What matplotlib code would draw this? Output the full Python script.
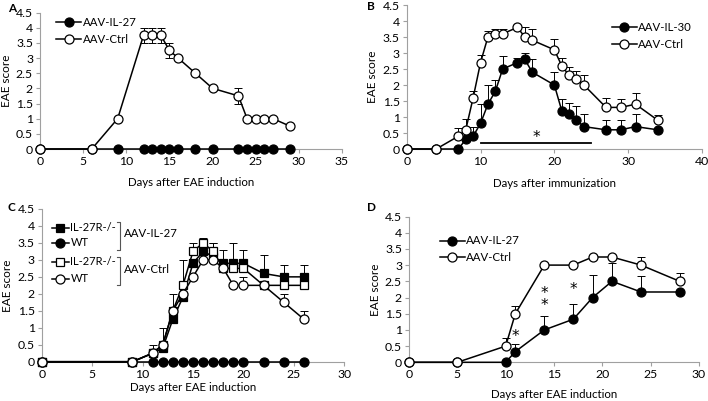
import numpy as np
import matplotlib
matplotlib.use("Agg")
import matplotlib.pyplot as plt

plt.rcParams['font.family'] = ['Lato', 'DejaVu Sans']
plt.rcParams['font.size'] = 8

# ---- panel A ----
a_ctrl_x = [0, 6, 9, 12, 13, 14, 15, 16, 18, 20, 23, 24, 25, 26, 27, 29]
a_ctrl_y = [0, 0, 1, 3.75, 3.75, 3.75, 3.25, 3, 2.5, 2, 1.75, 1, 1, 1, 1, 0.75]
a_ctrl_err = [0, 0, 0, 0.25, 0.25, 0.25, 0.25, 0, 0, 0, 0.25, 0, 0, 0, 0, 0]
a_il27_x = [0, 6, 9, 12, 13, 14, 15, 16, 18, 20, 23, 24, 25, 26, 27, 29]
a_il27_y = [0] * 16

# ---- panel B ----
b_ctrl_x = [0, 4, 7, 8, 9, 10, 11, 12, 13, 15, 16, 17, 20, 21, 22, 23, 24, 27, 29, 31, 34]
b_ctrl_y = [0, 0, 0.4, 0.6, 1.6, 2.7, 3.5, 3.6, 3.6, 3.8, 3.5, 3.4, 3.1, 2.6, 2.3, 2.2, 2.0, 1.3, 1.3, 1.4, 0.9]
b_ctrl_err = [0, 0, 0.25, 0.35, 0.2, 0.25, 0.2, 0.15, 0.15, 0.05, 0.3, 0.35, 0.35, 0.25, 0.25, 0.25, 0.3, 0.3, 0.25, 0.35, 0.15]
b_il30_x = [0, 4, 7, 8, 9, 10, 11, 12, 13, 15, 16, 17, 20, 21, 22, 23, 24, 27, 29, 31, 34]
b_il30_y = [0, 0, 0, 0.3, 0.4, 0.8, 1.4, 1.8, 2.5, 2.7, 2.8, 2.4, 2.0, 1.2, 1.1, 0.9, 0.7, 0.6, 0.6, 0.7, 0.6]
b_il30_err = [0, 0, 0, 0.2, 0.3, 0.6, 0.6, 0.35, 0.4, 0.15, 0.2, 0.4, 0.4, 0.35, 0.35, 0.45, 0.4, 0.3, 0.3, 0.4, 0]
b_sig_days = [10, 25]

# ---- panel C ----
c_x = [0, 9, 11, 12, 13, 14, 15, 16, 17, 18, 19, 20, 22, 24, 26]
c_ko_il27_y = [0, 0, 0.25, 0.4, 1.25, 1.9, 2.9, 3.25, 3.1, 2.9, 2.9, 2.9, 2.6, 2.5, 2.5]
c_ko_il27_err = [0, 0, 0, 0, 0, 0, 0, 0, 0.4, 0.4, 0.6, 0.4, 0.55, 0.35, 0.35]
c_wt_il27_y = [0] * 15
c_ko_ctrl_y = [0, 0, 0.25, 0.5, 1.5, 2.25, 3.25, 3.5, 3.25, 2.75, 2.75, 2.75, 2.25, 2.25, 2.25]
c_ko_ctrl_err = [0, 0, 0.25, 0.5, 0.5, 0.75, 0.25, 0.15, 0.25, 0, 0, 0, 0, 0, 0]
c_wt_ctrl_y = [0, 0, 0.25, 0.5, 1.5, 2.0, 2.5, 3.0, 3.0, 2.75, 2.25, 2.25, 2.25, 1.75, 1.25]
c_wt_ctrl_err = [0, 0, 0, 0, 0, 0, 0, 0, 0, 0, 0, 0.25, 0, 0.25, 0.25]

# ---- panel D ----
d_x = [0, 5, 10, 11, 14, 17, 19, 21, 24, 28]
d_il27_y = [0, 0, 0, 0.33, 1.0, 1.33, 2.0, 2.5, 2.17, 2.17]
d_il27_err = [0, 0, 0, 0.25, 0.42, 0.47, 0.7, 0.55, 0.5, 0]
d_ctrl_y = [0, 0, 0.5, 1.5, 3.0, 3.0, 3.25, 3.25, 3.0, 2.5]
d_ctrl_err = [0, 0, 0.25, 0.25, 0, 0, 0, 0, 0.25, 0.25]
d_stars = [(11, 0.8, '*'), (14, 1.95, '*\n*'), (17, 2.25, '*')]

W, H = 708, 401
fig = plt.figure(figsize=(W / 100, H / 100), dpi=100)
STAR = dict(family='DejaVu Sans', fontsize=11, ha='center', va='center', linespacing=0.75)


def px_axes(x0, x1, y0, y1):
    # pixel box: left, right, bottom (from top), top (from top)
    return fig.add_axes([x0 / W, 1 - y0 / H, (x1 - x0) / W, (y0 - y1) / H])


def style(ax, xmax, xstep):
    ax.set_xlim(0, xmax)
    ax.set_ylim(0, 4.5)
    ax.set_xticks(np.arange(0, xmax + 0.1, xstep))
    ax.set_yticks(np.arange(0, 4.51, 0.5))
    ax.set_yticklabels(['0', '0.5', '1', '1.5', '2', '2.5', '3', '3.5', '4', '4.5'])
    for s in ['top', 'right']:
        ax.spines[s].set_visible(False)
    for s in ['left', 'bottom']:
        ax.spines[s].set_color('#a0a0a0')
        ax.spines[s].set_linewidth(0.8)
    ax.tick_params(length=3, width=0.8, color='#a0a0a0', labelsize=8.8, pad=2)
    ax.set_ylabel('EAE score', fontsize=8.5, labelpad=3)


def series(ax, x, y, marker, filled, z):
    ln, = ax.plot(x, y, color='black', lw=1.1, marker=marker, ms=6.5 if marker == 'o' else 6,
                  mfc='black' if filled else 'white', mec='black', mew=0.9,
                  zorder=z, clip_on=False)
    return ln


def ebar(ax, x, y, err, both=False, z=2):
    e = np.array(err, dtype=float)
    lower = e if both else np.zeros_like(e)
    m = e > 0
    ax.errorbar(np.array(x)[m], np.array(y)[m], yerr=[lower[m], e[m]], fmt='none',
                ecolor='black', elinewidth=0.7, capsize=2.8, capthick=0.7, zorder=z, clip_on=False)


LEG = dict(frameon=False, handlelength=2.2, handletextpad=0.1, labelspacing=0.5, fontsize=8.2,
           loc='upper left')

# ---- A ----
axA = px_axes(40, 342, 149, 12.5)
style(axA, 35, 5)
ebar(axA, a_ctrl_x, a_ctrl_y, a_ctrl_err, both=True, z=4)
l1 = series(axA, a_il27_x, a_il27_y, 'o', True, 3)
l2 = series(axA, a_ctrl_x, a_ctrl_y, 'o', False, 5)
axA.legend([l1, l2], ['AAV-IL-27', 'AAV-Ctrl'], bbox_to_anchor=(0.02, 1.04), **LEG)
axA.set_xlabel('Days after EAE induction', fontsize=8.3, labelpad=7)
fig.text(8 / W, 1 - 8 / H, 'A', fontsize=8.5, fontweight='bold', va='center', ha='left')

# ---- B ----
axB = px_axes(406.7, 702, 149, 5)
style(axB, 40, 10)
ebar(axB, b_ctrl_x, b_ctrl_y, b_ctrl_err, z=2)
ebar(axB, b_il30_x, b_il30_y, b_il30_err, z=2)
l1 = series(axB, b_il30_x, b_il30_y, 'o', True, 3)
l2 = series(axB, b_ctrl_x, b_ctrl_y, 'o', False, 4)
axB.legend([l1, l2], ['AAV-IL-30', 'AAV-Ctrl'], bbox_to_anchor=(0.66, 0.95), **LEG)
axB.plot(b_sig_days, [0.18, 0.18], color='black', lw=1.3)
axB.text(np.mean(b_sig_days), 0.36, '*', **STAR)
axB.set_xlabel('Days after immunization', fontsize=8.3, labelpad=8)
fig.text(367 / W, 1 - 6 / H, 'B', fontsize=8.5, fontweight='bold', va='center', ha='left')

# ---- C ----
axC = px_axes(41.7, 344.3, 361.7, 209)
style(axC, 30, 5)
ebar(axC, c_x, c_ko_il27_y, c_ko_il27_err)
ebar(axC, c_x, c_ko_ctrl_y, c_ko_ctrl_err)
ebar(axC, c_x, c_wt_ctrl_y, c_wt_ctrl_err)
series(axC, c_x, c_ko_il27_y, 's', True, 3)
series(axC, c_x, c_wt_il27_y, 'o', True, 4)
series(axC, c_x, c_ko_ctrl_y, 's', False, 5)
series(axC, c_x, c_wt_ctrl_y, 'o', False, 6)
leg_y = [3.95, 3.5, 2.94, 2.44]
leg_lab = ['IL-27R-/-', 'WT', 'IL-27R-/-', 'WT']
leg_mk = [('s', True), ('o', True), ('s', False), ('o', False)]
for yy, lab, (mk, fl) in zip(leg_y, leg_lab, leg_mk):
    axC.plot([1.0, 2.75], [yy, yy], color='black', lw=1.1)
    axC.plot([1.85], [yy], marker=mk, ms=6.5 if mk == 'o' else 6, mfc='black' if fl else 'white',
             mec='black', mew=0.9, color='black')
    axC.text(2.85, yy, lab, va='center', ha='left', fontsize=8.0)
for (ytop, ybot, lab) in [(4.13, 3.3, 'AAV-IL-27'), (3.1, 2.26, 'AAV-Ctrl')]:
    axC.plot([7.5, 7.8, 7.8, 7.5], [ytop, ytop, ybot, ybot], color='#555555', lw=0.8)
    axC.text(8.15, (ytop + ybot) / 2 + 0.05, lab, va='center', ha='left', fontsize=8.2)
axC.set_xlabel('Days after EAE induction', fontsize=8.3, labelpad=2)
fig.text(8 / W, 1 - 207 / H, 'C', fontsize=8.5, fontweight='bold', va='center', ha='left')

# ---- D ----
axD = px_axes(409, 699, 362.3, 216.5)
style(axD, 30, 5)
ebar(axD, d_x, d_il27_y, d_il27_err)
ebar(axD, d_x, d_ctrl_y, d_ctrl_err)
l1 = series(axD, d_x, d_il27_y, 'o', True, 3)
l2 = series(axD, d_x, d_ctrl_y, 'o', False, 4)
axD.legend([l1, l2], ['AAV-IL-27', 'AAV-Ctrl'], bbox_to_anchor=(0.07, 0.94), **LEG)
for sx, sy, s in d_stars:
    axD.text(sx, sy, s, **STAR)
axD.set_xlabel('Days after EAE induction', fontsize=8.3, labelpad=6)
fig.text(367 / W, 1 - 207 / H, 'D', fontsize=8.5, fontweight='bold', va='center', ha='left')

fig.savefig('out.png', dpi=100)
